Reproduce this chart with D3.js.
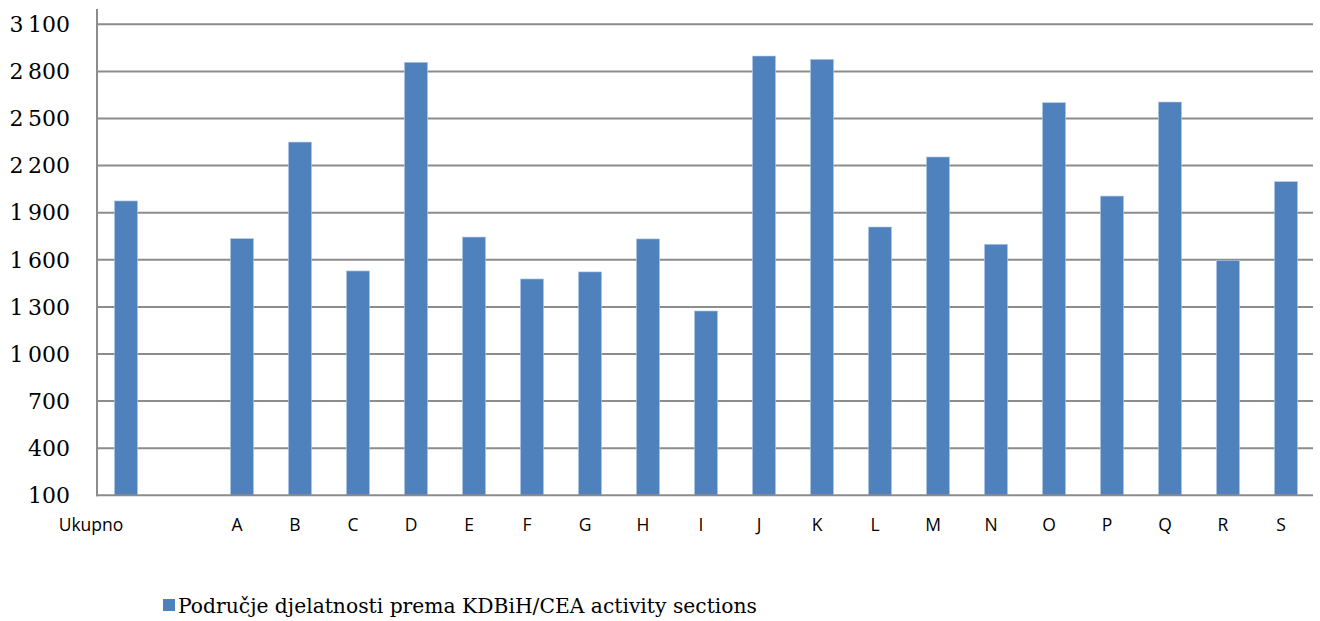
<!DOCTYPE html>
<html><head><meta charset="utf-8">
<script src="https://cdn.jsdelivr.net/npm/d3@7"></script>
<style>body{margin:0;background:#fff}svg{display:block}</style>
</head><body><svg id="c" width="1320" height="621"></svg>
<script>
const categories = ["Ukupno", "", "A", "B", "C", "D", "E", "F", "G", "H", "I", "J", "K", "L", "M", "N", "O", "P", "Q", "R", "S"];
const values = [1975, null, 1735, 2350, 1529, 2858, 1745, 1478, 1523, 1733, 1274, 2898, 2877, 1809, 2255, 1699, 2601, 2006, 2605, 1597, 2098];
const yTicks = [100, 400, 700, 1000, 1300, 1600, 1900, 2200, 2500, 2800, 3100];
const seriesName = "Područje djelatnosti prema KDBiH/CEA activity sections";

(function () {
const svg = d3.select("#c");
const pLeft = 97, pRight = 1315, pTop = 24.3, pBottom = 495.3;
const x = d3.scaleBand().domain(categories.map((c, i) => i)).range([pLeft, pRight]).paddingInner(0.6).paddingOuter(0.3);
const y = d3.scaleLinear().domain([100, 3100]).range([pBottom, pTop]);
const fmt = v => d3.format(",")(v).replace(/,/g, "\u2009");

// gridlines
svg.append("g").selectAll("line").data(yTicks.slice(1)).join("line")
  .attr("x1", pLeft).attr("x2", 1313).attr("y1", d => y(d)).attr("y2", d => y(d))
  .attr("stroke", "#8c8c8c").attr("stroke-width", 2);

// bars
svg.append("g").selectAll("rect").data(values.map((v, i) => ({v, i})).filter(d => d.v != null)).join("rect")
  .attr("x", d => x(d.i)).attr("width", x.bandwidth())
  .attr("y", d => y(d.v)).attr("height", d => y(100) - y(d.v))
  .attr("fill", "#4f81bd").attr("stroke", "#b9cde5").attr("stroke-width", 0.6);

// axes lines
svg.append("line").attr("x1", pLeft).attr("x2", pLeft).attr("y1", 9).attr("y2", pBottom + 1)
  .attr("stroke", "#8c8c8c").attr("stroke-width", 2);
svg.append("line").attr("x1", pLeft - 1).attr("x2", 1313).attr("y1", pBottom).attr("y2", pBottom)
  .attr("stroke", "#8c8c8c").attr("stroke-width", 2);

// y labels
svg.append("g").selectAll("text").data(yTicks).join("text")
  .attr("x", 70).attr("y", d => y(d)).attr("dy", "0.35em").attr("text-anchor", "end")
  .attr("font-family", "'DejaVu Serif', serif").attr("font-size", 22).attr("fill", "#000")
  .text(fmt);

// x labels (first label sits left of its bar, as in the source)
svg.append("g").selectAll("text").data(categories.map((c, i) => ({c, i}))).join("text")
  .attr("x", d => x(d.i) + x.bandwidth() / 2 + (d.i === 0 ? -35 : -5)).attr("y", 531).attr("text-anchor", "middle")
  .attr("font-family", "'Open Sans', sans-serif").attr("font-size", 17.5).attr("fill", "#000")
  .text(d => d.c);

// legend
const lg = svg.append("g");
lg.append("rect").attr("x", 163).attr("y", 599).attr("width", 12).attr("height", 12).attr("fill", "#4f81bd");
lg.append("text").attr("x", 178).attr("y", 613).attr("font-family", "'DejaVu Serif', serif")
  .attr("font-size", 20.3).attr("fill", "#000").text(seriesName);
})();
</script></body></html>
